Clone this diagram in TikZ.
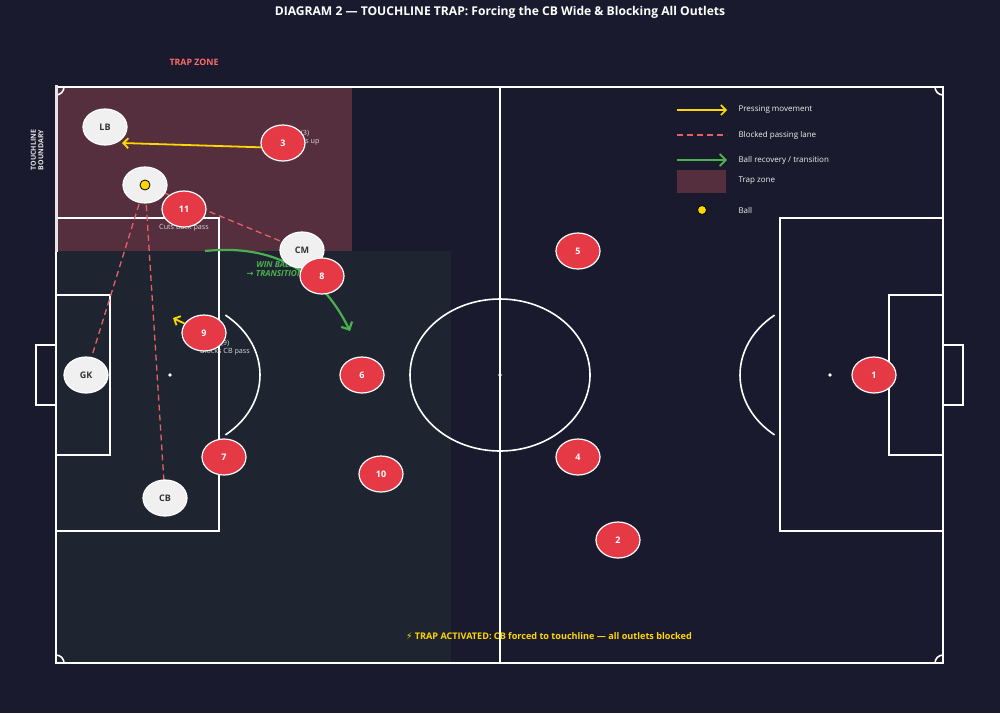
\documentclass[tikz,border=0pt]{standalone}
\usepackage{fontspec}
\setmainfont{Open Sans}
\newfontfamily\symfont{DejaVu Sans}
\usetikzlibrary{shapes.geometric,arrows.meta,calc}
\definecolor{pitchbg}{RGB}{26,26,46}
\definecolor{trapzone}{RGB}{86,47,62}
\definecolor{lowblock}{RGB}{30,37,48}
\definecolor{redteam}{RGB}{230,57,70}
\definecolor{whiteteam}{RGB}{240,240,240}
\definecolor{pressyellow}{RGB}{255,215,0}
\definecolor{lanered}{RGB}{228,98,98}
\definecolor{wingreen}{RGB}{76,175,80}
\definecolor{notegray}{RGB}{215,215,215}
\definecolor{trapred}{RGB}{255,107,107}
\pgfdeclarelayer{zones}
\pgfdeclarelayer{lanes}
\pgfsetlayers{zones,lanes,main}
\newcommand\presser[3]{%
\node[redplayer] (#1) at (#2) {#3};
}
\newcommand\opponent[3]{%
\node[whiteplayer] (#1) at (#2) {#3};
}

\begin{document}
\begin{tikzpicture}[x=1pt,y=-1pt,
  player/.style={ellipse,minimum width=44pt,minimum height=36pt,inner sep=0pt,
    line width=1.2pt,font=\bfseries\fontsize{9}{10}\selectfont},
  redplayer/.style={player,fill=redteam,draw=white,text=white},
  whiteplayer/.style={player,fill=whiteteam,draw=white,text=black!80},
  pitchline/.style={white,line width=1.6pt},
  lane/.style={lanered,line width=1.3pt,dash pattern=on 6pt off 4pt},
  press/.style={pressyellow,line width=1.8pt,-{Straight Barb[length=5pt,width=10pt]}},
  win/.style={wingreen,line width=2.2pt,-{Straight Barb[length=6pt,width=12pt]}},
  note/.style={notegray,font=\fontsize{7.2}{8}\selectfont,align=center},
  legendtext/.style={white!88!gray,font=\fontsize{8}{9}\selectfont,anchor=west}]
	%% canvas
	\useasboundingbox (0,0) rectangle (1000,713);
	\def\L{56} \def\R{943} \def\T{87} \def\B{663} % pitch edges
	\def\midX{500} \def\midY{375}

\begin{pgfonlayer}{zones}
	\fill[pitchbg] (0,0) rectangle (1000,713);
	\fill[trapzone] (\L,\T) rectangle (352,251);
	\fill[lowblock] (\L,251) rectangle (451,\B);
	% pitch markings
	\draw[pitchline] (\L,\T) rectangle (\R,\B);
	\draw[pitchline] (\midX,\T) -- (\midX,\B);
	\draw[pitchline] (\midX,\midY) ellipse[x radius=90pt,y radius=76pt];
	\fill[white] (\midX,\midY) circle (1.8pt);
	% left end
	\draw[pitchline] (\L,218) rectangle (219,531);
	\draw[pitchline] (\L,295) rectangle (110,455);
	\draw[pitchline] (\L,345) -- (36,345) -- (36,405) -- (\L,405);
	\fill[white] (170,\midY) circle (1.8pt);
	\draw[pitchline] ([shift={(-52:90pt and 76pt)}]170,\midY)
	  arc[start angle=-52,end angle=52,x radius=90pt,y radius=76pt];
	% right end
	\draw[pitchline] (780,218) rectangle (\R,531);
	\draw[pitchline] (889,295) rectangle (\R,455);
	\draw[pitchline] (\R,345) -- (963,345) -- (963,405) -- (\R,405);
	\fill[white] (830,\midY) circle (1.8pt);
	\draw[pitchline] ([shift={(128:90pt and 76pt)}]830,\midY)
	  arc[start angle=128,end angle=232,x radius=90pt,y radius=76pt];
	% corner arcs
	\draw[pitchline] (\L,95) arc[start angle=-90,end angle=0,radius=8pt];
	\draw[pitchline] (\R,95) arc[start angle=-90,end angle=-180,radius=8pt];
	\draw[pitchline] (\L,655) arc[start angle=90,end angle=0,radius=8pt];
	\draw[pitchline] (\R,655) arc[start angle=90,end angle=180,radius=8pt];
	% touchline boundary
	\draw[white!80!gray,line width=3pt] (\L,85) -- (\L,252);
\end{pgfonlayer}

	%% players
	\opponent{LB}{105,127}{LB}
	\opponent{carrier}{145,185}{}
	\opponent{CM}{302,250}{CM}
	\opponent{GK}{86,375}{GK}
	\opponent{CB}{165,498}{CB}
	\presser{P3}{283,143}{3}
	\presser{P11}{184,209}{11}
	\presser{P8}{322,276}{8}
	\presser{P5}{578,251}{5}
	\presser{P9}{204,333}{9}
	\presser{P6}{362,375}{6}
	\presser{P1}{874,375}{1}
	\presser{P7}{224,457}{7}
	\presser{P4}{578,457}{4}
	\presser{P10}{381,474}{10}
	\presser{P2}{618,540}{2}
	\filldraw[fill=pressyellow,draw=black,line width=0.8pt] (carrier.center) circle (5pt);

	\coordinate (winA) at (205,251);
	\coordinate (winB) at (350,331);
	\coordinate (nineTo) at (173,318);

\begin{pgfonlayer}{lanes}
	% blocked lanes
	\draw[lane] (carrier.center) -- (GK.center);
	\draw[lane] (carrier.center) -- (CB.center);
	\draw[lane] (carrier.center) -- (CM.center);
	% pressing runs
	\draw[press] ([yshift=-5pt]P3.center) -- ([xshift=17pt,yshift=-16pt]LB.center);
	\draw[press] (P9.center) -- (nineTo);
	% recovery
	\draw[win] (winA) .. controls (272,244) and (320,270) .. (winB);
	\node[wingreen,font=\bfseries\itshape\fontsize{8.3}{9}\selectfont,align=center]
	  at (275,269) {WIN BALL\\{\symfont →} TRANSITION};
	% notes
	\node[note] at (305,138) {(3)\\Steps up};
	\node[note] at (184,228) {Cuts back pass};
	\node[note] at (225,348) {(9)\\Blocks CB pass};
\end{pgfonlayer}

	%% texts
	\node[white,font=\bfseries\fontsize{12.1}{14}\selectfont] (title) at (500,12)
	  {DIAGRAM 2 — TOUCHLINE TRAP: Forcing the CB Wide \& Blocking All Outlets};
	\node[trapred,font=\bfseries\fontsize{8.8}{10}\selectfont] (trapzone) at (194,62) {TRAP ZONE};
	\node[white!80!gray,rotate=90,align=center,font=\bfseries\fontsize{7}{7.5}\selectfont]
	  (touchline) at (37,150) {TOUCHLINE\\BOUNDARY};
	\node[pressyellow,font=\bfseries\fontsize{9.1}{10}\selectfont] (activated) at (549,636)
	  {{\symfont ⚡} TRAP ACTIVATED: CB forced to touchline — all outlets blocked};

	%% legend
	\coordinate (k1) at (677,110); \coordinate (k1e) at (727,110);
	\coordinate (k2) at (677,135); \coordinate (k2e) at (727,135);
	\coordinate (k3) at (677,160); \coordinate (k3e) at (727,160);
	\draw[press,line width=1.6pt] (k1) -- (k1e);
	\draw[lane] (k2) -- (k2e);
	\draw[win,line width=1.8pt] (k3) -- (k3e);
	\fill[trapzone] (677,170) rectangle (726,193);
	\filldraw[fill=pressyellow,draw=black,line width=0.8pt] (702,210) circle (4.5pt);
	\node[legendtext] at (735,110) {Pressing movement};
	\node[legendtext] at (735,135) {Blocked passing lane};
	\node[legendtext] at (735,160) {Ball recovery / transition};
	\node[legendtext] at (735,181) {Trap zone};
	\node[legendtext] at (735,210) {Ball};
\end{tikzpicture}
\end{document}
